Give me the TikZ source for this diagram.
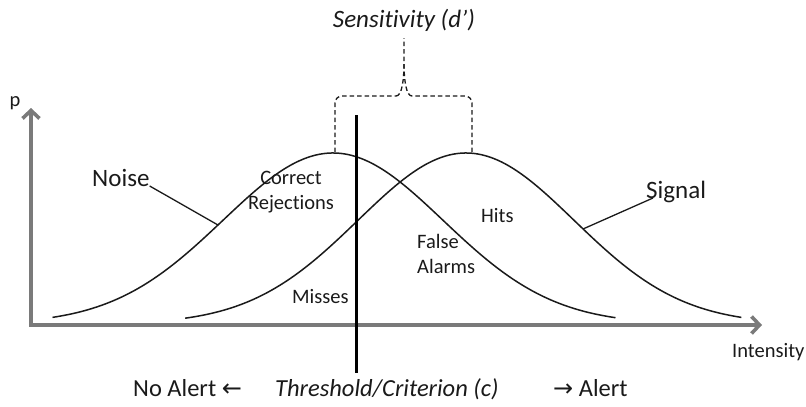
\documentclass[tikz,border=0pt]{standalone}
\usepackage{fontspec}
\setmainfont[Ligatures=NoCommon]{Carlito}
\newfontfamily\arrowfont{DejaVu Sans}
\usetikzlibrary{arrows.meta}
\definecolor{axisgray}{HTML}{7A7A7A}
\definecolor{ink}{HTML}{1A1A1A}
\begin{document}
\begin{tikzpicture}[x=1pt,y=-1pt,
  axisline/.style={draw=axisgray,line width=3.6pt,line join=miter,
    {Straight Barb[length=8pt,width=17pt]}-{Straight Barb[length=8pt,width=17pt]}},
  curve/.style={draw=ink,line width=1.5pt},
  leader/.style={draw=ink,line width=1.3pt},
  bracket/.style={draw=ink,line width=1.3pt,dash pattern=on 4.5pt off 3pt,rounded corners=7pt},
  biglab/.style={inner sep=0pt,text=ink,font=\fontsize{25}{30}\selectfont},
  smalllab/.style={inner sep=0pt,text=ink,font=\fontsize{20.5}{24.5}\selectfont},
  bottomlab/.style={inner sep=0pt,text=ink,font=\fontsize{24.5}{30}\selectfont}]
\useasboundingbox (0,0) rectangle (806,407);

% axes
\coordinate (ytop) at (31,108);
\coordinate (origin) at (31,325);
\coordinate (xend) at (762,325);
\draw[axisline] (ytop) -- (origin) -- (xend);
\node[smalllab,anchor=base] (plab) at (15,106) {p};
\node[smalllab,anchor=base west] (intensity) at (732,357) {Intensity};

% distributions
\draw[curve] plot[domain=-2.55:2.57,samples=140,smooth] ({333+110*\x},{324-171*exp(-0.5*\x*\x)});
\draw[curve] plot[domain=-2.6:2.55,samples=140,smooth] ({466+108*\x},{324-171*exp(-0.5*\x*\x)});

% labels and leaders
\node[biglab,anchor=base west] (noise) at (92,186) {Noise};
\coordinate (noisept) at (218,225);
\draw[leader] (noise.base east) -- (noisept);
\node[biglab,anchor=base west] (signal) at (646,198) {Signal};
\coordinate (signalpt) at (583,229);
\draw[leader] ([xshift=7pt]signal.base west) -- (signalpt);

\node[smalllab,align=center,anchor=base] (cr) at (291,209) {Correct\\Rejections};
\node[smalllab,anchor=base west] (hits) at (481,222) {Hits};
\node[smalllab,align=left,anchor=base west] (fa) at (417,273) {False\\Alarms};
\node[smalllab,anchor=base west] (misses) at (292,303) {Misses};

% sensitivity bracket
\node[bottomlab,anchor=base,font=\fontsize{25}{30}\selectfont\itshape] (sens) at (404,27) {Sensitivity (d')};
\coordinate (bl) at (335,152);
\coordinate (br) at (472,152);
\coordinate (bm) at (404,62);
\coordinate (btop) at (404,38);
\draw[bracket] (bl) |- (396,96);
\draw[bracket] (br) |- (412,96);
\draw[ink,line width=1.3pt,dash pattern=on 4.5pt off 3pt]
  (396,96) .. controls (402,96) and (404,80) .. (bm) -- (btop);
\draw[ink,line width=1.3pt,dash pattern=on 4.5pt off 3pt]
  (412,96) .. controls (406,96) and (404,80) .. (bm);

% threshold
\coordinate (thtop) at (356,115);
\coordinate (thbot) at (356,373);
\draw[black,line width=3pt] (thtop) -- (thbot);

\node[bottomlab,anchor=base west] (noalert) at (133,396) {No Alert {\arrowfont\fontsize{24}{26}\selectfont ←}};
\node[bottomlab,anchor=base west,font=\fontsize{24.5}{30}\selectfont\itshape] (thr) at (275,396) {Threshold/Criterion (c)};
\node[bottomlab,anchor=base west] (alert) at (553,396) {{\arrowfont\fontsize{24}{26}\selectfont →} Alert};
\end{tikzpicture}
\end{document}
